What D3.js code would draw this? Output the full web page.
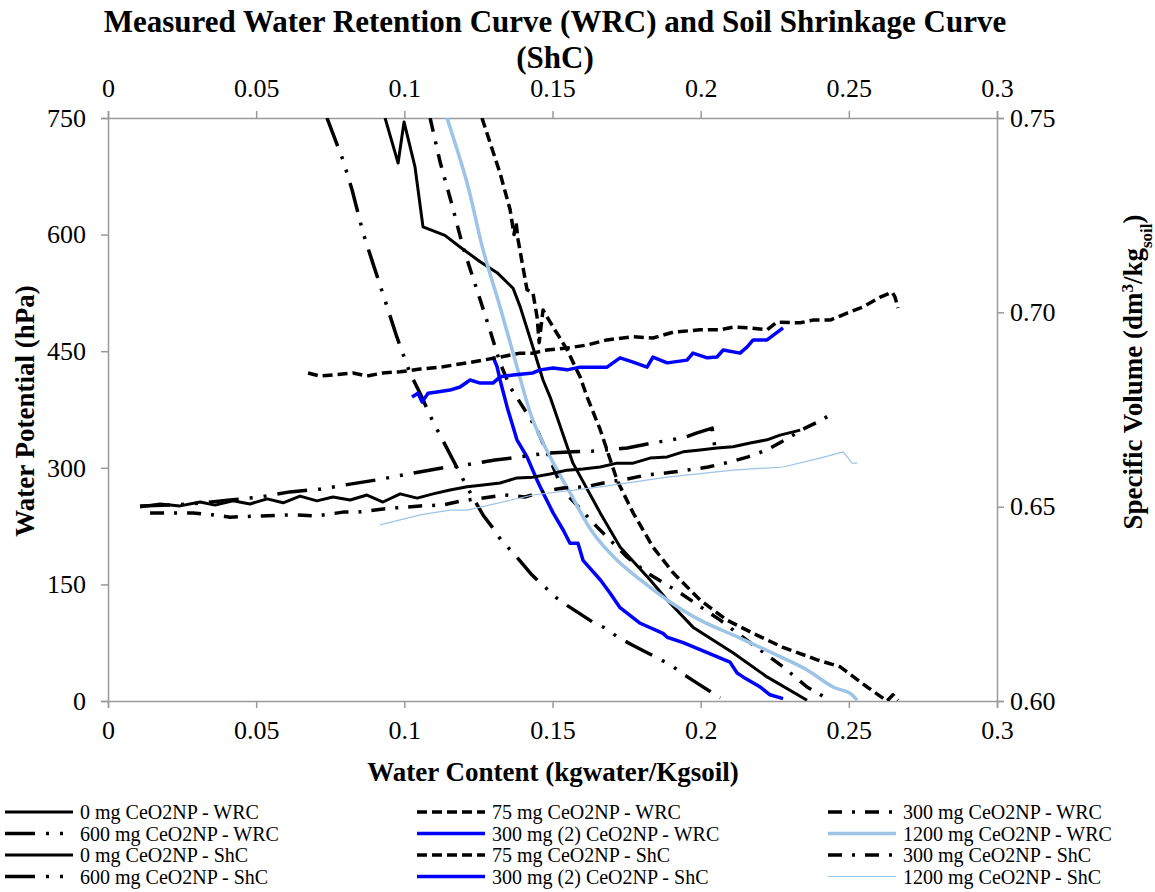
<!DOCTYPE html>
<html>
<head>
<meta charset="utf-8">
<script src="https://cdn.jsdelivr.net/npm/d3@7"></script>
<style>
body { margin: 0; background: #fff; }
text { font-family: "Liberation Serif", "Times New Roman", serif; fill: #000; }
</style>
</head>
<body>
<div class="canva"></div>
<script>
// tick values / labels
const xTicks = [0, 0.05, 0.1, 0.15, 0.2, 0.25, 0.3];
const xTickLabels = ["0", "0.05", "0.1", "0.15", "0.2", "0.25", "0.3"];
const yTicks = [0, 150, 300, 450, 600, 750];
const y2Ticks = [0.6, 0.65, 0.7, 0.75];
const y2TickLabels = ["0.60", "0.65", "0.70", "0.75"];

// WRC: [water content, water potential hPa]
const wrc0 = [[0.0935,750],[0.0979,692],[0.0999,745],[0.1036,687],[0.1063,610],[0.1137,599],[0.1188,584],[0.1256,565],[0.1313,551],[0.1367,531],[0.1391,507],[0.1434,455],[0.1468,413],[0.1492,391],[0.1569,306],[0.1661,242],[0.1728,198],[0.1829,156],[0.1887,130],[0.1974,95],[0.2109,62],[0.2224,31],[0.2359,1]];
const wrc75 = [[0.1262,750],[0.1323,679],[0.1357,632],[0.1370,600],[0.1377,616],[0.1384,593],[0.1414,529],[0.1434,525],[0.1448,494],[0.1455,461],[0.1468,503],[0.1502,481],[0.1549,452],[0.1593,417],[0.1617,391],[0.1661,349],[0.1718,284],[0.1772,242],[0.1839,198],[0.1907,165],[0.1998,130],[0.2089,104],[0.2177,87],[0.2278,69],[0.2393,53],[0.2471,44],[0.2562,18],[0.2629,0],[0.2649,8],[0.2666,1]];
const wrc300 = [[0.1087,750],[0.1121,693],[0.1161,638],[0.1198,584],[0.1245,529],[0.1289,477],[0.1323,435],[0.1357,404],[0.1414,370],[0.1448,349],[0.1536,271],[0.1650,224],[0.1752,185],[0.1819,165],[0.1931,139],[0.2066,104],[0.2167,75],[0.2278,44],[0.2359,18],[0.2437,1]];
const wrc600 = [[0.0739,750],[0.0793,696],[0.0824,657],[0.0861,602],[0.0894,563],[0.0942,507],[0.0975,468],[0.1019,422],[0.1053,396],[0.1097,359],[0.1144,325],[0.1212,275],[0.1266,239],[0.1296,224],[0.1330,205],[0.1364,192],[0.1431,162],[0.1468,149],[0.1509,134],[0.1549,123],[0.1634,102],[0.1677,94],[0.1721,82],[0.1769,72],[0.1856,55],[0.1904,45],[0.1947,33],[0.1988,23],[0.2066,4]];
const wrc300b = [[0.1299,443],[0.1313,430],[0.1323,413],[0.1347,378],[0.1380,336],[0.1414,314],[0.1448,284],[0.1468,268],[0.1502,242],[0.1536,220],[0.1559,203],[0.1586,203],[0.1603,181],[0.1661,156],[0.1694,139],[0.1728,120],[0.1796,100],[0.1873,87],[0.1887,82],[0.1941,75],[0.1998,66],[0.2099,50],[0.2123,36],[0.2143,31],[0.2201,18],[0.2234,8],[0.2278,3]];
const wrc1200 = [[0.1144,750],[0.1212,666],[0.1266,580],[0.1323,507],[0.1380,430],[0.1434,361],[0.1492,314],[0.1559,268],[0.1637,216],[0.1718,181],[0.1796,156],[0.1887,130],[0.1998,104],[0.2133,81],[0.2268,57],[0.2359,40],[0.2447,18],[0.2504,10],[0.2528,1]];

// ShC: [water content, specific volume dm3/kg]
const shc0 = [[0.0108,0.6499],[0.0176,0.6507],[0.0243,0.6502],[0.0311,0.6512],[0.0361,0.6504],[0.0422,0.6515],[0.0479,0.6507],[0.0537,0.6520],[0.0591,0.6510],[0.0648,0.6527],[0.0705,0.6515],[0.0759,0.6525],[0.0817,0.6517],[0.0874,0.6530],[0.0928,0.6512],[0.0986,0.6533],[0.1043,0.6522],[0.1097,0.6533],[0.1154,0.6543],[0.1212,0.6551],[0.1266,0.6556],[0.1323,0.6561],[0.1380,0.6574],[0.1434,0.6576],[0.1492,0.6584],[0.1549,0.6594],[0.1603,0.6597],[0.1661,0.6602],[0.1718,0.6612],[0.1772,0.6612],[0.1829,0.6625],[0.1887,0.6628],[0.1941,0.6641],[0.1998,0.6646],[0.2055,0.6651],[0.2109,0.6654],[0.2167,0.6664],[0.2224,0.6672],[0.2268,0.6684],[0.2336,0.6697]];
const shc75 = [[0.0675,0.6844],[0.0716,0.6836],[0.0759,0.6839],[0.0827,0.6844],[0.0874,0.6836],[0.0928,0.6844],[0.0986,0.6847],[0.1053,0.6854],[0.1121,0.6859],[0.1212,0.6870],[0.1266,0.6877],[0.1323,0.6885],[0.1391,0.6895],[0.1434,0.6895],[0.1482,0.6903],[0.1549,0.6908],[0.1617,0.6916],[0.1684,0.6929],[0.1772,0.6937],[0.1839,0.6934],[0.1907,0.6949],[0.1998,0.6955],[0.2066,0.6955],[0.2109,0.6962],[0.2167,0.6960],[0.2224,0.6955],[0.2258,0.6975],[0.2336,0.6973],[0.2379,0.6980],[0.2437,0.6980],[0.2494,0.6998],[0.2548,0.7014],[0.2606,0.7039],[0.2646,0.7052],[0.2656,0.7039],[0.2666,0.7011]];
const shc300 = [[0.0142,0.6484],[0.0287,0.6484],[0.0351,0.6479],[0.0412,0.6473],[0.0513,0.6476],[0.0624,0.6479],[0.0705,0.6476],[0.0793,0.6486],[0.0844,0.6486],[0.0928,0.6494],[0.0975,0.6497],[0.1053,0.6502],[0.1127,0.6504],[0.1195,0.6515],[0.1340,0.6530],[0.1407,0.6525],[0.1475,0.6540],[0.1536,0.6548],[0.1610,0.6551],[0.1684,0.6563],[0.1752,0.6571],[0.1819,0.6582],[0.1887,0.6587],[0.1954,0.6594],[0.2025,0.6602],[0.2099,0.6615],[0.2160,0.6628],[0.2224,0.6646],[0.2285,0.6672],[0.2352,0.6702],[0.2396,0.6718],[0.2437,0.6736]];
const shc600 = [[0.0108,0.6502],[0.0209,0.6504],[0.0311,0.6509],[0.0412,0.6517],[0.0513,0.6525],[0.0614,0.6538],[0.0716,0.6545],[0.0817,0.6558],[0.0908,0.6569],[0.1013,0.6584],[0.1070,0.6592],[0.1144,0.6602],[0.1205,0.6607],[0.1306,0.6620],[0.1391,0.6628],[0.1482,0.6638],[0.1569,0.6641],[0.1637,0.6643],[0.1752,0.6651],[0.1839,0.6664],[0.1941,0.6677],[0.1988,0.6690],[0.2039,0.6702],[0.2049,0.6646]];
const shc300b = [[0.1026,0.6782],[0.1046,0.6792],[0.1060,0.6769],[0.1080,0.6792],[0.1110,0.6795],[0.1154,0.6800],[0.1188,0.6808],[0.1222,0.6826],[0.1256,0.6818],[0.1299,0.6818],[0.1323,0.6834],[0.1367,0.6839],[0.1434,0.6844],[0.1458,0.6852],[0.1502,0.6857],[0.1549,0.6852],[0.1593,0.6859],[0.1637,0.6859],[0.1684,0.6859],[0.1728,0.6883],[0.1772,0.6872],[0.1819,0.6859],[0.1839,0.6885],[0.1887,0.6870],[0.1954,0.6877],[0.1974,0.6895],[0.2022,0.6883],[0.2055,0.6885],[0.2076,0.6903],[0.2133,0.6895],[0.2157,0.6911],[0.2177,0.6929],[0.2224,0.6929],[0.2278,0.6960]];
const shc1200 = [[0.0918,0.6453],[0.0986,0.6466],[0.1053,0.6479],[0.1154,0.6491],[0.1212,0.6491],[0.1434,0.6530],[0.1661,0.6551],[0.1887,0.6576],[0.2109,0.6594],[0.2278,0.6602],[0.2403,0.6625],[0.2481,0.6641],[0.2511,0.6612],[0.2528,0.6612]];

const labels = [
  "0 mg CeO2NP - WRC", "75 mg CeO2NP - WRC", "300 mg CeO2NP - WRC",
  "600 mg CeO2NP - WRC", "300 mg (2) CeO2NP - WRC", "1200 mg CeO2NP - WRC",
  "0 mg CeO2NP - ShC", "75 mg CeO2NP - ShC", "300 mg CeO2NP - ShC",
  "600 mg CeO2NP - ShC", "300 mg (2) CeO2NP - ShC", "1200 mg CeO2NP - ShC"
];

// line styles
const solid = { color: "#000", width: 3, dash: null };
const dashed = { color: "#000", width: 3.5, dash: "10,5" };
const dashDot = { color: "#000", width: 3.5, dash: "14,10,3,10" };
const dashDotDot = { color: "#000", width: 3.5, dash: "30,11,3,11,3,11" };
const blue = { color: "#0000ff", width: 3.5, dash: null };
const lightBlue = { color: "#9dc3e6", width: 3.5, dash: null };
const lightThin = { color: "#9dc3e6", width: 1.2, dash: null };

const series = [
  { data: wrc0, style: solid, axis: "p" },
  { data: wrc75, style: dashed, axis: "p" },
  { data: wrc300, style: dashDot, axis: "p" },
  { data: wrc600, style: dashDotDot, axis: "p" },
  { data: wrc300b, style: blue, axis: "p" },
  { data: wrc1200, style: lightBlue, axis: "p", smooth: true },
  { data: shc0, style: solid, axis: "s" },
  { data: shc75, style: dashed, axis: "s" },
  { data: shc300, style: dashDot, axis: "s" },
  { data: shc600, style: dashDotDot, axis: "s" },
  { data: shc300b, style: blue, axis: "s" },
  { data: shc1200, style: lightThin, axis: "s" }
];

const W = 1155, H = 892;
const m = { left: 108, right: 997, top: 118, bottom: 701 };

const svg = d3.select(".canva").append("svg")
  .attr("width", W).attr("height", H);

const x = d3.scaleLinear().domain([0, 0.3]).range([m.left, m.right]);
const y = d3.scaleLinear().domain([0, 750]).range([m.bottom, m.top]);
const y2 = d3.scaleLinear().domain([0.6, 0.75]).range([m.bottom, m.top]);

svg.append("clipPath").attr("id", "plot")
  .append("rect")
  .attr("x", m.left).attr("y", m.top)
  .attr("width", m.right - m.left).attr("height", m.bottom - m.top);

// axes
const axisColor = "#9a9a9a";
function styleAxis(g) {
  g.select(".domain").attr("stroke", axisColor).attr("stroke-width", 1.5);
  g.selectAll(".tick line").attr("stroke", axisColor).attr("stroke-width", 1.5);
  g.selectAll(".tick text")
    .style("font-family", "Liberation Serif, serif")
    .style("font-size", "26px").attr("fill", "#000");
}

svg.append("g").attr("transform", `translate(0,${m.bottom})`)
  .call(d3.axisBottom(x).tickValues(xTicks).tickFormat((d, i) => xTickLabels[i]).tickSizeOuter(0).tickSize(7).tickPadding(13))
  .call(styleAxis);
svg.append("g").attr("transform", `translate(0,${m.top})`)
  .call(d3.axisTop(x).tickValues(xTicks).tickFormat((d, i) => xTickLabels[i]).tickSizeOuter(0).tickSize(7).tickPadding(14))
  .call(styleAxis);
svg.append("g").attr("transform", `translate(${m.left},0)`)
  .call(d3.axisLeft(y).tickValues(yTicks).tickSizeOuter(0).tickSize(7).tickPadding(15))
  .call(styleAxis);
svg.append("g").attr("transform", `translate(${m.right},0)`)
  .call(d3.axisRight(y2).tickValues(y2Ticks).tickFormat((d, i) => y2TickLabels[i]).tickSizeOuter(0).tickSize(7).tickPadding(6))
  .call(styleAxis);

// lines
const plot = svg.append("g").attr("clip-path", "url(#plot)");
series.forEach(s => {
  const yy = s.axis === "p" ? y : y2;
  const line = d3.line()
    .x(d => x(d[0]))
    .y(d => yy(d[1]))
    .curve(s.smooth ? d3.curveCatmullRom : d3.curveLinear);
  plot.append("path")
    .datum(s.data)
    .attr("d", line)
    .attr("fill", "none")
    .attr("stroke", s.style.color)
    .attr("stroke-width", s.style.width)
    .attr("stroke-dasharray", s.style.dash)
    .attr("stroke-linejoin", "round");
});

// titles
const title = svg.append("text")
  .attr("text-anchor", "middle")
  .style("font-size", "31px").style("font-weight", "bold");
title.append("tspan").attr("x", 555).attr("y", 32)
  .text("Measured Water Retention Curve (WRC) and Soil Shrinkage Curve");
title.append("tspan").attr("x", 555).attr("y", 68).text("(ShC)");

svg.append("text")
  .attr("x", 553).attr("y", 781)
  .attr("text-anchor", "middle")
  .style("font-size", "27px").style("font-weight", "bold")
  .text("Water Content (kgwater/Kgsoil)");

svg.append("text")
  .attr("transform", "translate(34,411) rotate(-90)")
  .attr("text-anchor", "middle")
  .style("font-size", "27px").style("font-weight", "bold")
  .text("Water Potential (hPa)");

const rt = svg.append("text")
  .attr("transform", "translate(1142,372) rotate(-90)")
  .attr("text-anchor", "middle")
  .style("font-size", "27px").style("font-weight", "bold");
rt.append("tspan").text("Specific Volume (dm");
rt.append("tspan").attr("baseline-shift", "super").style("font-size", "17px").text("3");
rt.append("tspan").text("/kg");
rt.append("tspan").attr("baseline-shift", "sub").style("font-size", "17px").text("soil");
rt.append("tspan").text(")");

// legend
const colX = [5, 417, 828];
const lineLen = 68;
const rowY = [812, 833.5, 855, 876.5];
series.forEach((s, i) => {
  const cx = colX[i % 3];
  const cy = rowY[Math.floor(i / 3)];
  svg.append("line")
    .attr("x1", cx).attr("x2", cx + lineLen)
    .attr("y1", cy).attr("y2", cy)
    .attr("stroke", s.style.color)
    .attr("stroke-width", s.style.width)
    .attr("stroke-dasharray", s.style.dash);
  svg.append("text")
    .attr("x", cx + lineLen + 7).attr("y", cy + 7)
    .style("font-size", "20px")
    .text(labels[i]);
});
</script>
</body>
</html>
